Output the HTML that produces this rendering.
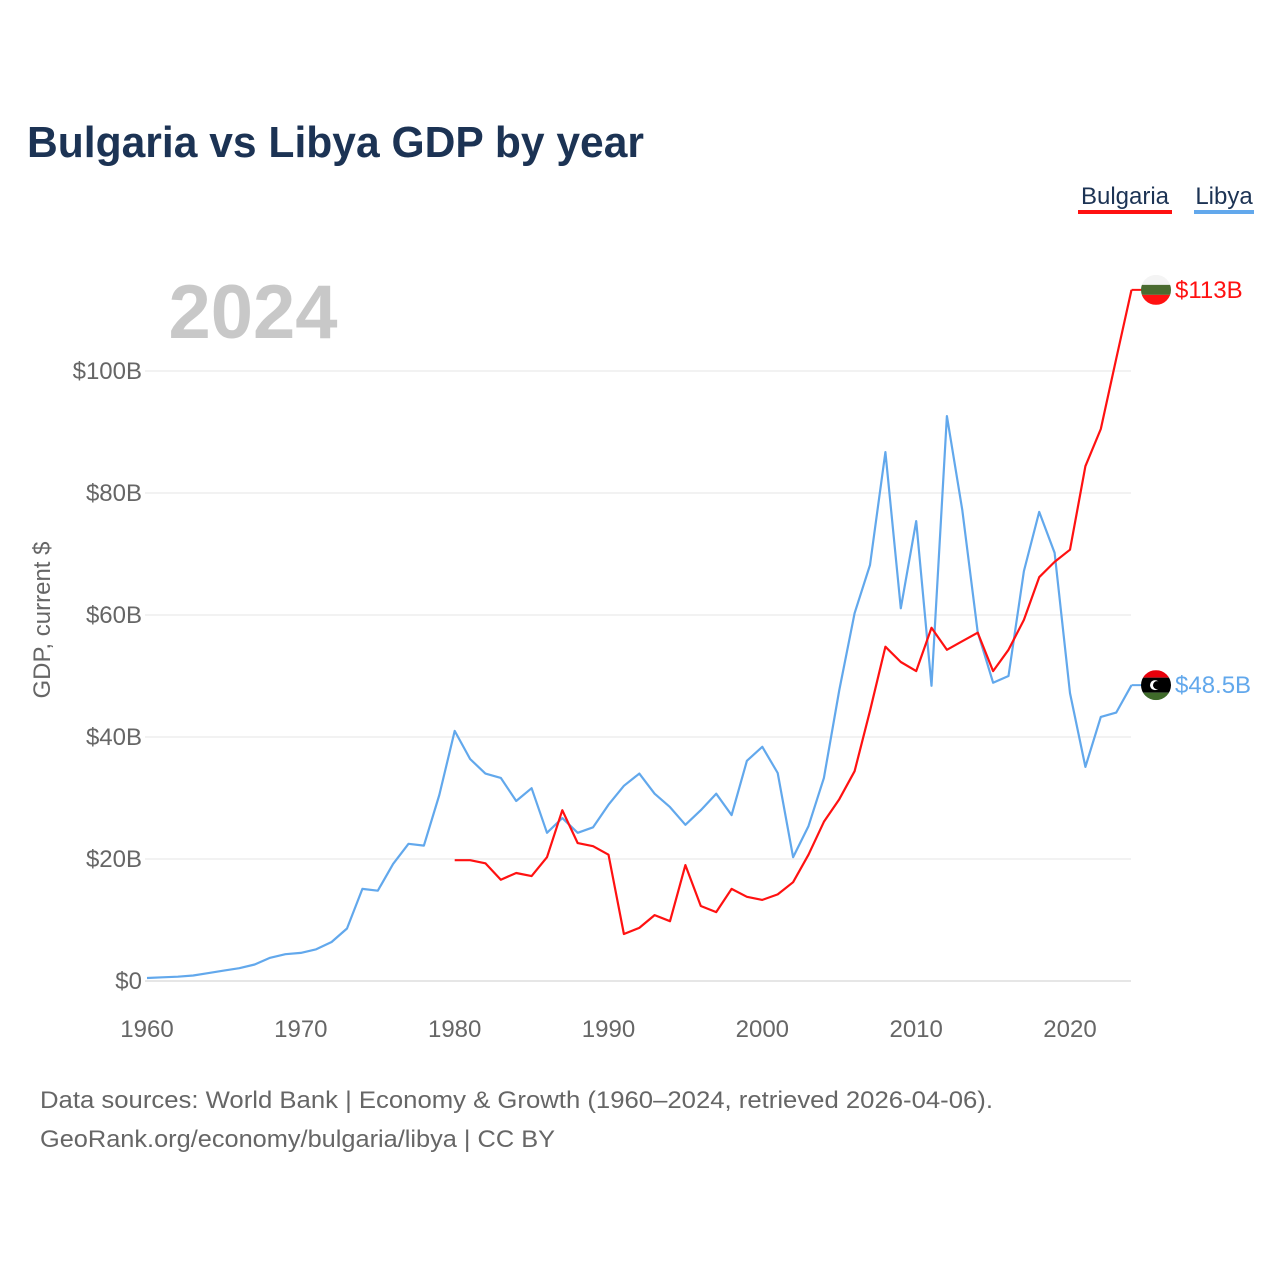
<!DOCTYPE html>
<html><head><meta charset="utf-8"><style>
body{margin:0;background:#fff;font-family:"Liberation Sans",sans-serif}
#wrap{position:relative;width:1280px;height:1280px;overflow:hidden}
</style></head><body>
<div id="wrap">
<svg id="chart" width="1280" height="1280">
<text x="27" y="157" font-size="44" font-weight="bold" fill="#1c3354" textLength="617" lengthAdjust="spacingAndGlyphs">Bulgaria vs Libya GDP by year</text>
<g><text x="1125" y="204" font-size="24" fill="#1c3354" text-anchor="middle">Bulgaria</text><rect x="1078" y="210" width="94" height="4" fill="#ff1111"/></g>
<g><text x="1224" y="204" font-size="24" fill="#1c3354" text-anchor="middle">Libya</text><rect x="1194" y="210" width="60" height="4" fill="#62a8ec"/></g>
<text x="253" y="338" font-size="76" font-weight="bold" fill="#c8c8c8" text-anchor="middle">2024</text>
<text transform="translate(50,620) rotate(-90)" font-size="24" fill="#666" text-anchor="middle">GDP, current $</text>
<g id="grid"></g><g id="lines"></g><g id="ends"></g>
<text x="40" y="1108" font-size="24" fill="#666" textLength="953" lengthAdjust="spacingAndGlyphs">Data sources: World Bank | Economy &amp; Growth (1960–2024, retrieved 2026-04-06).</text>
<text x="40" y="1147" font-size="24" fill="#666" textLength="515" lengthAdjust="spacingAndGlyphs">GeoRank.org/economy/bulgaria/libya | CC BY</text>
</svg></div>
<script>
const yTicks=[0,20,40,60,80,100];
const yTickLabels=["$0","$20B","$40B","$60B","$80B","$100B"];
const xTicks=[1960,1970,1980,1990,2000,2010,2020];
const libyaStart=1960;
const libyaValues=[0.5,0.6,0.7,0.9,1.3,1.7,2.1,2.7,3.8,4.4,4.6,5.2,6.4,8.6,15.1,14.8,19.2,22.5,22.2,30.5,41.0,36.4,34.0,33.3,29.5,31.6,24.3,26.7,24.3,25.2,28.9,32.0,34.0,30.7,28.5,25.6,28.0,30.7,27.2,36.1,38.4,34.1,20.3,25.4,33.3,47.7,60.3,68.2,86.7,61.1,75.4,48.4,92.6,77.2,57.2,48.9,50.0,67.2,76.9,70.2,47.2,35.1,43.3,44.0,48.5];
const bulgariaStart=1980;
const bulgariaValues=[19.8,19.8,19.3,16.6,17.7,17.2,20.3,28.0,22.6,22.1,20.7,7.7,8.7,10.8,9.8,19.0,12.3,11.3,15.1,13.8,13.3,14.2,16.2,20.7,26.1,29.8,34.4,44.3,54.8,52.3,50.8,57.9,54.3,55.7,57.1,50.8,54.3,59.2,66.2,68.7,70.7,84.4,90.5,102.0,113.3];
const endLabels=["$113B","$48.5B"];
const NS="http://www.w3.org/2000/svg";
const X=yr=>147+(yr-1960)*(923/60);
const Y=v=>981-v*6.1;
function mk(t,a,p){const e=document.createElementNS(NS,t);for(const k in a)e.setAttribute(k,a[k]);p.appendChild(e);return e;}
const grid=document.getElementById('grid');
yTicks.forEach((v,i)=>{
 const l=mk('line',{x1:145,x2:1131,y1:Y(v),y2:Y(v),stroke:i==0?'#ccc':'#e6e6e6','stroke-width':1},grid);
 
 
 const t=mk('text',{x:142,y:Y(v)+8,'font-size':24,fill:'#666','text-anchor':'end'},grid);
 t.textContent=yTickLabels[i];
 
 
});
xTicks.forEach(yr=>{
 const t=mk('text',{x:X(yr),y:1037,'font-size':24,fill:'#666','text-anchor':'middle'},grid);
 t.textContent=yr;
 
 
});
const lines=document.getElementById('lines');
function series(vals,start,col,name){
 const d=vals.map((v,i)=>(i?'L':'M')+X(start+i).toFixed(1)+','+Y(v).toFixed(1)).join(' ');
 const p=mk('path',{d:d,fill:'none',stroke:col,'stroke-width':2.2,'stroke-linejoin':'round'},lines);
 
 
}
series(libyaValues,libyaStart,'#62a8ec','libya-line');
series(bulgariaValues,bulgariaStart,'#ff1111','bulgaria-line');
const ends=document.getElementById('ends');
function endMark(v,col,label,name,bands){
 const y=Y(v),x0=X(2024);
 mk('line',{x1:x0,x2:1142,y1:y,y2:y,stroke:col,'stroke-width':2},ends);
 const g=mk('g',{},ends);
 
 
 const cx=1156,r=15;
 const cp=mk('clipPath',{id:'c'+name},g);
 mk('circle',{cx:cx,cy:y,r:r},cp);
 const cg=mk('g',{'clip-path':'url(#c'+name+')'},g);
 let yy=y-r;
 bands.forEach(b=>{mk('rect',{x:cx-r,y:yy,width:2*r,height:b[1],fill:b[0]},cg);yy+=b[1];});
 if(name=='libya'){mk('circle',{cx:cx-1,cy:y,r:5,fill:'#fff'},cg);mk('circle',{cx:cx+1,cy:y,r:4,fill:'#000'},cg);}
 const t=mk('text',{x:1175,y:y+8,'font-size':24,fill:col},ends);
 t.textContent=label;
 
 
}
endMark(bulgariaValues[bulgariaValues.length-1],'#ff1111',endLabels[0],'bulgaria',[['#f4f4f4',10],['#4a6b30',10],['#ff1111',10]]);
endMark(libyaValues[libyaValues.length-1],'#62a8ec',endLabels[1],'libya',[['#e8000b',7.5],['#000000',15],['#3f6a2a',7.5]]);
</script>
</body></html>
